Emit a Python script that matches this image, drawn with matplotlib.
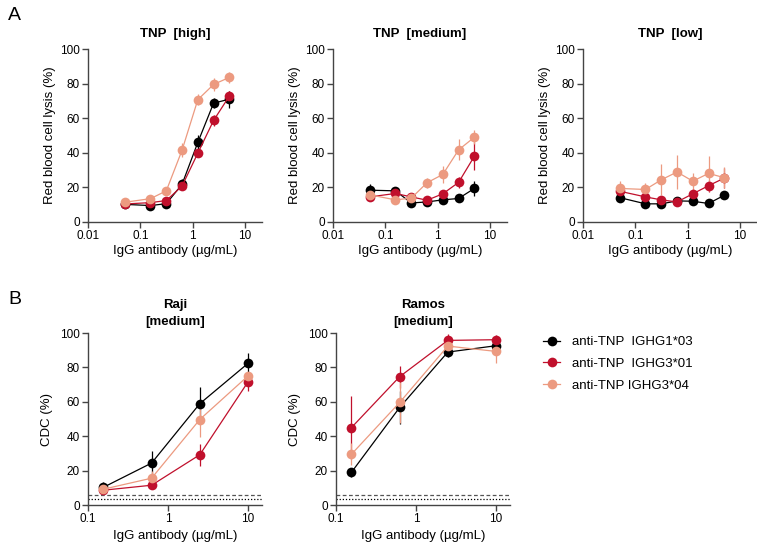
import matplotlib
matplotlib.use("Agg")
import matplotlib.pyplot as plt
from matplotlib.lines import Line2D
import numpy as np

plt.rcParams['font.family'] = ['Liberation Sans', 'DejaVu Sans']

# concentrations (ug/mL)
conc_a = [0.05, 0.156, 0.3125, 0.625, 1.25, 2.5, 5]
conc_b = [0.156, 0.625, 2.5, 10]

series_names = ['anti-TNP  IGHG1*03', 'anti-TNP  IGHG3*01', 'anti-TNP IGHG3*04']
series_colors = ['#000000', '#C0102C', '#EC9A80']

# panel A: red blood cell lysis (%), mean and error
tnp_titles = ['TNP  [high]', 'TNP  [medium]', 'TNP  [low]']
high_mean = [[10.2, 9.5, 10.6, 21.8, 46.0, 68.7, 71.0],
             [10.4, 11.2, 12.4, 20.8, 39.8, 58.7, 72.8],
             [11.4, 13.5, 18.0, 41.5, 70.7, 79.5, 83.6]]
high_err = [[1.5, 1.5, 1.5, 3.0, 4.5, 3.0, 5.0],
            [1.5, 1.5, 1.5, 2.0, 2.5, 3.0, 3.0],
            [1.5, 1.5, 1.5, 4.0, 3.0, 4.0, 3.0]]
medium_mean = [[18.4, 18.0, 11.0, 11.6, 12.8, 13.6, 19.4],
               [14.5, 16.5, 14.5, 12.6, 16.3, 22.9, 38.0],
               [15.7, 12.8, 13.8, 22.7, 27.5, 41.7, 49.0]]
medium_err = [[3.5, 2.0, 1.5, 1.5, 1.5, 1.5, 4.5],
              [2.5, 4.0, 2.0, 1.5, 2.0, 3.0, 8.0],
              [2.5, 2.5, 2.0, 3.0, 5.0, 6.0, 4.0]]
low_mean = [[14.1, 10.5, 10.5, 12.2, 12.0, 10.7, 15.5],
            [17.8, 14.5, 12.8, 11.6, 16.3, 21.0, 25.4],
            [19.4, 18.8, 24.4, 28.9, 23.6, 28.1, 25.6]]
low_err = [[2.0, 1.5, 1.5, 1.5, 1.5, 1.5, 2.0],
           [3.5, 2.5, 2.0, 1.5, 3.0, 3.5, 6.0],
           [4.5, 4.0, 9.0, 10.0, 5.0, 10.0, 6.0]]

# panel B: CDC (%)
cell_titles = ['Raji\n[medium]', 'Ramos\n[medium]']
raji_mean = [[10.3, 24.4, 58.9, 82.3],
             [8.6, 11.5, 29.2, 71.5],
             [9.2, 15.6, 49.7, 75.0]]
raji_err = [[3.0, 7.0, 9.5, 6.0],
            [1.5, 2.0, 6.5, 5.5],
            [1.5, 4.0, 10.0, 2.5]]
ramos_mean = [[19.0, 56.7, 88.9, 92.6],
              [45.0, 74.6, 95.7, 96.1],
              [29.5, 59.6, 92.4, 89.3]]
ramos_err = [[2.5, 9.5, 3.0, 3.0],
             [18.5, 6.5, 3.5, 2.5],
             [6.5, 12.0, 2.0, 6.5]]
bg_dashed = 6.0
bg_dotted = 3.5

W, H = 757, 545
fig = plt.figure(figsize=(W / 100, H / 100), dpi=100)


def make_ax(left, top, width, height):
    return fig.add_axes([left / W, 1 - (top + height) / H, width / W, height / H])


def style(ax):
    for s in ['top', 'right']:
        ax.spines[s].set_visible(False)
    for s in ['left', 'bottom']:
        ax.spines[s].set_color('#444444')
        ax.spines[s].set_linewidth(1.0)
    ax.tick_params(direction='out', length=4, width=1.0, color='#444444',
                   labelsize=8.5, pad=2)
    ax.tick_params(which='minor', length=0)
    ax.set_xscale('log')


def draw(ax, x, means, errs):
    for m, e, c in zip(means, errs, series_colors):
        ax.errorbar(x, m, yerr=e, color=c, ecolor=c, lw=0.9, elinewidth=0.9,
                    capsize=3.5, capthick=0.9, marker='o', markersize=7,
                    markeredgewidth=0, zorder=3)


a_lefts = [88, 333, 583]
a_data = [(high_mean, high_err), (medium_mean, medium_err), (low_mean, low_err)]
for left, title, (mean, err) in zip(a_lefts, tnp_titles, a_data):
    ax = make_ax(left, 49, 174, 173)
    style(ax)
    draw(ax, conc_a, mean, err)
    ax.set_xlim(0.01, 21)
    ax.set_ylim(0, 100)
    ax.set_xticks([0.01, 0.1, 1, 10])
    ax.set_xticklabels(['0.01', '0.1', '1', '10'])
    ax.set_yticks([0, 20, 40, 60, 80, 100])
    ax.set_title(title, fontsize=9.5, fontweight='bold', pad=9)
    ax.set_xlabel('IgG antibody (µg/mL)', fontsize=9.5, labelpad=2)
    ax.set_ylabel('Red blood cell lysis (%)', fontsize=9.5, labelpad=3)

b_lefts = [88, 336]
b_data = [(raji_mean, raji_err), (ramos_mean, ramos_err)]
for left, title, (mean, err) in zip(b_lefts, cell_titles, b_data):
    ax = make_ax(left, 333, 174, 172)
    style(ax)
    ax.axhline(bg_dashed, color='#555555', lw=0.9, ls=(0, (3, 2)), zorder=1)
    ax.axhline(bg_dotted, color='#000000', lw=0.9, ls=(0, (1, 1.5)), zorder=1)
    draw(ax, conc_b, mean, err)
    ax.set_xlim(0.1, 15)
    ax.set_ylim(0, 100)
    ax.set_xticks([0.1, 1, 10])
    ax.set_xticklabels(['0.1', '1', '10'])
    ax.set_yticks([0, 20, 40, 60, 80, 100])
    ax.set_title(title, fontsize=9.5, fontweight='bold', pad=6, linespacing=1.55)
    ax.set_xlabel('IgG antibody (µg/mL)', fontsize=9.5, labelpad=3)
    ax.set_ylabel('CDC (%)', fontsize=9.5, labelpad=5)

handles = [Line2D([0], [0], color=c, lw=0.9, marker='o', markersize=7,
                  markeredgewidth=0) for c in series_colors]
fig.legend(handles, series_names, loc='upper left',
           bbox_to_anchor=(543 / W, 1 - 336 / H), frameon=False,
           fontsize=9.5, handlelength=1.3, handletextpad=0.9,
           labelspacing=0.72, borderaxespad=0, borderpad=0)

fig.text(8 / W, 1 - 16 / H, 'A', fontsize=14, va='center', ha='left')
fig.text(8 / W, 1 - 300 / H, 'B', fontsize=14, va='center', ha='left')

fig.savefig('out.png', dpi=100)
